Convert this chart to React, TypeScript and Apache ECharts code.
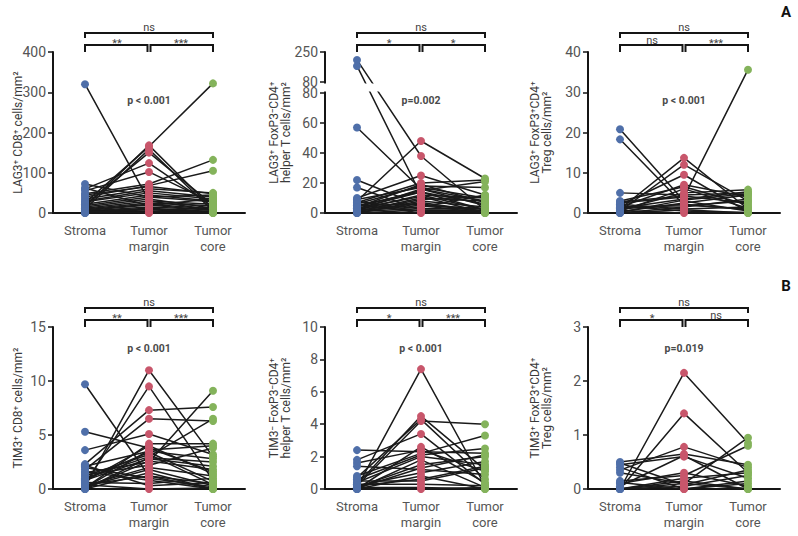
import React, { useEffect, useRef } from 'react';
import * as echarts from 'echarts';

// ---------- categories & styling constants ----------
const CATEGORIES = ['Stroma', 'Tumor\nmargin', 'Tumor\ncore'];
const DOT_COLORS = ['#4f6fa9', '#c8566b', '#84b35b'];
const FONT = "Roboto, 'Liberation Sans', sans-serif";

// ---------- data (one entry per patient) ----------
// A1: LAG3+ CD8+ cells/mm2
const LAG3_CD8_STROMA = [320, 25, 15, 10, 20, 72, 60, 55, 48, 40, 35, 30, 28, 22, 18, 15, 12, 10, 8, 6, 5, 4, 3, 2, 1, 0, 0, 62, 45, 5];
const LAG3_CD8_MARGIN = [30, 165, 168, 158, 150, 40, 124, 102, 72, 68, 60, 55, 50, 45, 40, 35, 30, 25, 22, 20, 15, 12, 10, 8, 5, 3, 2, 18, 66, 0];
const LAG3_CD8_CORE = [8, 322, 10, 5, 20, 45, 15, 25, 132, 105, 50, 40, 35, 30, 28, 12, 22, 18, 10, 6, 8, 4, 3, 2, 1, 0, 15, 36, 48, 0];

// A2: LAG3+ FoxP3-CD4+ helper T cells/mm2 (broken axis)
const LAG3_TH_STROMA = [205, 171, 57, 22, 17, 8, 5, 10, 7, 6, 9, 4, 3, 2, 1, 0, 5, 3, 2, 1, 0, 8, 6, 4, 2, 1, 0, 3];
const LAG3_TH_MARGIN = [38, 12, 16, 5, 2, 48, 14, 25, 20, 18, 17, 15, 14, 12, 10, 8, 6, 5, 4, 3, 2, 1, 0, 19, 16, 9, 7, 11];
const LAG3_TH_CORE = [2, 2, 8, 3, 1, 23, 2, 12, 22, 17, 10, 21, 6, 10, 8, 4, 1, 0, 12, 3, 2, 1, 0, 7, 5, 11, 1, 0];

// A3: LAG3+ FoxP3+CD4+ Treg cells/mm2
const LAG3_TREG_STROMA = [20.8, 18.3, 5, 1, 0.5, 2, 1.5, 3, 2.5, 0.8, 1.2, 0.3, 0, 2.2, 1.8, 0.6, 2.8, 0.2, 1, 0, 0.4, 1.4];
const LAG3_TREG_MARGIN = [3, 2, 4.5, 13.7, 12, 9.5, 7, 6.5, 4, 5, 3.5, 2.5, 1.5, 1, 0.5, 0, 4.2, 3.2, 2.2, 0.8, 6, 1.8];
const LAG3_TREG_CORE = [0.5, 1, 5, 1, 3, 0.3, 4, 2, 35.6, 5.8, 5.3, 4.5, 3.5, 1.5, 0, 0.2, 2.5, 4.8, 0.8, 0, 1.2, 3];

// B1: TIM3+ CD8+ cells/mm2
const TIM3_CD8_STROMA = [9.7, 5.3, 3.6, 0.2, 0.5, 2.3, 1.8, 0.1, 1.5, 2.1, 1.2, 1, 0.8, 0.3, 0, 2, 0.6, 0.4, 1.3, 0.9, 0, 0.2, 1.6, 0.1, 0.7, 2.2, 0, 0.4];
const TIM3_CD8_MARGIN = [1.2, 3.8, 5.1, 11, 9.5, 7.3, 6.5, 4.2, 2.5, 3.5, 3.2, 3, 2.8, 2, 1.5, 1, 0.5, 0, 2.2, 3.4, 2.6, 1.8, 0.8, 3.6, 4, 0.3, 2.9, 1.2];
const TIM3_CD8_CORE = [0.5, 1.6, 3.2, 3, 0.8, 7.6, 6.3, 4.2, 9.1, 2.8, 0.4, 6.5, 2.1, 1.2, 0, 0.2, 1, 0.1, 3.8, 0.7, 1.8, 0.3, 0, 4, 1.4, 0.6, 2.5, 0];

// B2: TIM3- FoxP3-CD4+ helper T cells/mm2
const TIM3_TH_STROMA = [2.4, 0.1, 0.3, 0.2, 1.8, 1.4, 0.8, 0.6, 0.4, 0, 0.1, 0.2, 0, 0.5, 0.3, 0.1, 0, 1.6, 0.7, 0.05, 0, 0.2];
const TIM3_TH_MARGIN = [2.3, 7.4, 4.5, 4.2, 3.4, 1.2, 2.2, 2.1, 2, 1.8, 1.5, 1, 0.8, 0.5, 0.3, 0.1, 0, 2.4, 4.3, 1.3, 2.6, 0.6];
const TIM3_TH_CORE = [2.2, 0.2, 1.2, 4, 0.3, 0.9, 3.3, 2.5, 1.5, 0.1, 2, 1.7, 0, 1.3, 0.2, 0, 0.1, 1.1, 0.6, 2.1, 0.4, 1.4];

// B3: TIM3+ FoxP3+CD4+ Treg cells/mm2
const TIM3_TREG_STROMA = [0, 0, 0.5, 0.45, 0.4, 0.35, 0.3, 0.15, 0.1, 0, 0, 0.05, 0, 0.12, 0, 0.48];
const TIM3_TREG_MARGIN = [2.15, 1.4, 0.65, 0.6, 0, 0.78, 0.1, 0.25, 0.3, 0.15, 0.05, 0.62, 0.2, 0, 0.1, 0.08];
const TIM3_TREG_CORE = [0.85, 0.3, 0.45, 0.2, 0.1, 0.4, 0.95, 0.8, 0.05, 0, 0.25, 0, 0.3, 0.15, 0, 0.35];

// ---------- axis / annotation texts ----------
const Y_NAMES = [
  'LAG3⁺ CD8⁺ cells/mm²',
  'LAG3⁺ FoxP3⁻CD4⁺\nhelper T cells/mm²',
  'LAG3⁺ FoxP3⁺CD4⁺\nTreg cells/mm²',
  'TIM3⁺ CD8⁺ cells/mm²',
  'TIM3⁻ FoxP3⁻CD4⁺\nhelper T cells/mm²',
  'TIM3⁺ FoxP3⁺CD4⁺\nTreg cells/mm²',
];
const Y_MAX = [400, 80, 40, 15, 10, 3];
const Y_INTERVAL = [100, 20, 10, 5, 2, 1];
// broken axis of panel A2: lower part 0–80, upper part 80–250
const BROKEN_LOWER_TICKS = [0, 20, 40, 60, 80];
const BROKEN_UPPER_TICKS = [80, 250];
const P_TEXTS = ['p < 0.001', 'p=0.002', 'p < 0.001', 'p < 0.001', 'p < 0.001', 'p=0.019'];
// [stroma vs margin, margin vs core, stroma vs core]
const SIGNIFICANCE = [
  ['**', '***', 'ns'],
  ['*', '*', 'ns'],
  ['ns', '***', 'ns'],
  ['**', '***', 'ns'],
  ['*', '***', 'ns'],
  ['*', 'ns', 'ns'],
];
const PANEL_LETTERS = ['A', 'B'];

const PANEL_DATA = [
  [LAG3_CD8_STROMA, LAG3_CD8_MARGIN, LAG3_CD8_CORE],
  [LAG3_TH_STROMA, LAG3_TH_MARGIN, LAG3_TH_CORE],
  [LAG3_TREG_STROMA, LAG3_TREG_MARGIN, LAG3_TREG_CORE],
  [TIM3_CD8_STROMA, TIM3_CD8_MARGIN, TIM3_CD8_CORE],
  [TIM3_TH_STROMA, TIM3_TH_MARGIN, TIM3_TH_CORE],
  [TIM3_TREG_STROMA, TIM3_TREG_MARGIN, TIM3_TREG_CORE],
];

// ---------- layout ----------
const COL_LEFT = [53, 325, 588];
const COL_WIDTH = 192;
const ROW_TOP = [52, 327];
const ROW_HEIGHT = [161, 162];
const P_Y = [100, 348];
const NAME_X = [18, 280, 541];
const BROKEN_PANEL = 1;
// pixel heights of the broken axis parts (sum = ROW_HEIGHT[0])
const BROKEN_LOWER_PX = 120;
const BROKEN_GAP_PX = 11;
const BROKEN_UPPER_PX = 30;

const AXIS_COLOR = '#151515';
const TEXT_COLOR = '#555';

// broken-axis scale: maps a value to a linear "pixel unit" position
const brokenLower = (v: number) => (v * BROKEN_LOWER_PX) / BROKEN_LOWER_TICKS[BROKEN_LOWER_TICKS.length - 1];
const brokenUpper = (v: number) =>
  BROKEN_LOWER_PX + BROKEN_GAP_PX + ((v - BROKEN_UPPER_TICKS[0]) * BROKEN_UPPER_PX) / (BROKEN_UPPER_TICKS[1] - BROKEN_UPPER_TICKS[0]);
const toBroken = (v: number) => (v <= BROKEN_UPPER_TICKS[0] ? brokenLower(v) : brokenUpper(v));
const fromBroken = (t: number) =>
  t <= BROKEN_LOWER_PX + 0.01
    ? (t * BROKEN_LOWER_TICKS[BROKEN_LOWER_TICKS.length - 1]) / BROKEN_LOWER_PX
    : BROKEN_UPPER_TICKS[0] + ((t - BROKEN_LOWER_PX - BROKEN_GAP_PX) * (BROKEN_UPPER_TICKS[1] - BROKEN_UPPER_TICKS[0])) / BROKEN_UPPER_PX;

function buildOption() {
  const grid: any[] = [];
  const xAxis: any[] = [];
  const yAxis: any[] = [];
  const series: any[] = [];
  const graphic: any[] = [];

  PANEL_DATA.forEach((arrs, k) => {
    const r = Math.floor(k / 3);
    const c = k % 3;
    const left = COL_LEFT[c];
    const top = ROW_TOP[r];
    const height = ROW_HEIGHT[r];
    const broken = k === BROKEN_PANEL;
    const tf = broken ? toBroken : (v: number) => v;

    grid.push({ left, top, width: COL_WIDTH, height, containLabel: false, outerBoundsMode: 'none' });
    xAxis.push({
      gridIndex: k,
      type: 'category',
      data: CATEGORIES,
      boundaryGap: true,
      axisLine: { show: true, lineStyle: { color: AXIS_COLOR, width: 2 } },
      axisTick: { show: false },
      axisLabel: { color: TEXT_COLOR, fontSize: 13, lineHeight: 16, margin: 9, fontFamily: FONT },
      splitLine: { show: false },
    });
    const brokenTicks = [...BROKEN_LOWER_TICKS.map(brokenLower), ...BROKEN_UPPER_TICKS.map(brokenUpper)];
    const brokenBoundary = BROKEN_UPPER_TICKS[0];
    yAxis.push({
      gridIndex: k,
      type: 'value',
      min: 0,
      max: broken ? BROKEN_LOWER_PX + BROKEN_GAP_PX + BROKEN_UPPER_PX : Y_MAX[k],
      interval: broken ? undefined : Y_INTERVAL[k],
      axisLine: { show: true, onZero: false, lineStyle: { color: AXIS_COLOR, width: 2 } },
      axisTick: {
        show: true,
        length: 5,
        lineStyle: { color: AXIS_COLOR, width: 1.5 },
        ...(broken ? { customValues: brokenTicks } : {}),
      },
      axisLabel: {
        color: TEXT_COLOR,
        fontSize: 14,
        margin: 7,
        fontFamily: FONT,
        ...(broken
          ? {
              customValues: brokenTicks,
              formatter: (t: number) => {
                const v = Math.round(fromBroken(t));
                return v === brokenBoundary ? `{b|${v}}` : String(v);
              },
              rich: { b: { fontSize: 14, lineHeight: 10, color: TEXT_COLOR, fontFamily: FONT } },
            }
          : {}),
      },
      splitLine: { show: false },
    });

    const [s, m, cc] = arrs;
    for (let i = 0; i < s.length; i++) {
      series.push({
        type: 'line',
        xAxisIndex: k,
        yAxisIndex: k,
        data: [s[i], m[i], cc[i]].map(tf),
        symbol: 'none',
        clip: false,
        silent: true,
        z: 2,
        lineStyle: { color: '#1a1a1a', width: 1.5 },
        emphasis: { disabled: true },
      });
    }
    arrs.forEach((vals, j) => {
      series.push({
        type: 'scatter',
        xAxisIndex: k,
        yAxisIndex: k,
        data: vals.map((v) => [j, tf(v)]),
        symbolSize: 8,
        itemStyle: { color: DOT_COLORS[j], opacity: 1 },
        silent: true,
        clip: false,
        z: 3,
        emphasis: { disabled: true },
      });
    });

    // white band that opens the axis break
    if (broken) {
      const yBottom = top + height - BROKEN_LOWER_PX;
      graphic.push({
        type: 'rect',
        silent: true,
        z: 20,
        shape: { x: left - 1.5, y: yBottom - BROKEN_GAP_PX + 1.6, width: COL_WIDTH + 3, height: BROKEN_GAP_PX - 3 },
        style: { fill: '#ffffff' },
      });
    }

    // significance brackets
    const cx = (j: number) => left + (COL_WIDTH * (2 * j + 1)) / 6;
    const x0 = cx(0), x1 = cx(1), x2 = cx(2);
    const bracketStyle = { stroke: AXIS_COLOR, lineWidth: 2, fill: null };
    graphic.push({ type: 'polyline', silent: true, shape: { points: [[x0, top - 14], [x0, top - 19], [x2, top - 19], [x2, top - 14]] }, style: bracketStyle });
    graphic.push({ type: 'polyline', silent: true, shape: { points: [[x0, top], [x0, top - 7], [x1 - 1.5, top - 7], [x1 - 1.5, top]] }, style: bracketStyle });
    graphic.push({ type: 'polyline', silent: true, shape: { points: [[x1 + 1.5, top], [x1 + 1.5, top - 7], [x2, top - 7], [x2, top]] }, style: bracketStyle });

    const txt = (text: string, x: number, y: number, extra: any = {}) => ({
      type: 'text',
      silent: true,
      x,
      y,
      style: {
        text,
        align: 'center',
        verticalAlign: 'middle',
        textAlign: 'center',
        textVerticalAlign: 'middle',
        fill: '#444',
        fontSize: 11,
        fontFamily: FONT,
        ...extra,
      },
    });
    const sig = SIGNIFICANCE[k];
    graphic.push(txt(sig[0], (x0 + x1) / 2, sig[0] === 'ns' ? top - 12 : top - 9));
    graphic.push(txt(sig[1], (x1 + x2) / 2, sig[1] === 'ns' ? top - 12 : top - 9));
    graphic.push(txt(sig[2], x1, top - 25));
    graphic.push(txt(P_TEXTS[k], x1, P_Y[r], { fontSize: 10.5, fontWeight: 'bold', fill: '#4a4a4a' }));

    // y axis name
    graphic.push({
      type: 'text',
      silent: true,
      x: NAME_X[c],
      y: top + height / 2,
      rotation: Math.PI / 2,
      style: {
        text: Y_NAMES[k],
        align: 'center',
        verticalAlign: 'middle',
        textAlign: 'center',
        textVerticalAlign: 'middle',
        fill: '#3a3a3a',
        fontSize: 12,
        lineHeight: 12,
        fontFamily: FONT,
      },
    });
  });

  PANEL_LETTERS.forEach((letter, r) => {
    graphic.push({
      type: 'text',
      silent: true,
      x: 786,
      y: ROW_TOP[r] - 40 + (r === 1 ? -1 : 0),
      style: {
        text: letter,
        align: 'center',
        verticalAlign: 'middle',
        textAlign: 'center',
        textVerticalAlign: 'middle',
        fill: '#111',
        fontSize: 15,
        fontWeight: 'bold',
        fontFamily: FONT,
      },
    });
  });

  return {
    animation: false,
    backgroundColor: '#ffffff',
    grid,
    xAxis,
    yAxis,
    series,
    graphic,
  };
}

export default function App() {
  const ref = useRef<HTMLDivElement>(null);
  useEffect(() => {
    if (!ref.current) return;
    const chart = echarts.init(ref.current, null, { renderer: 'svg' });
    chart.setOption(buildOption() as any);
    return () => chart.dispose();
  }, []);
  return (
    <div
      ref={ref}
      style={{ position: 'absolute', left: 0, top: 0, width: 798, height: 536, background: '#fff' }}
    />
  );
}
